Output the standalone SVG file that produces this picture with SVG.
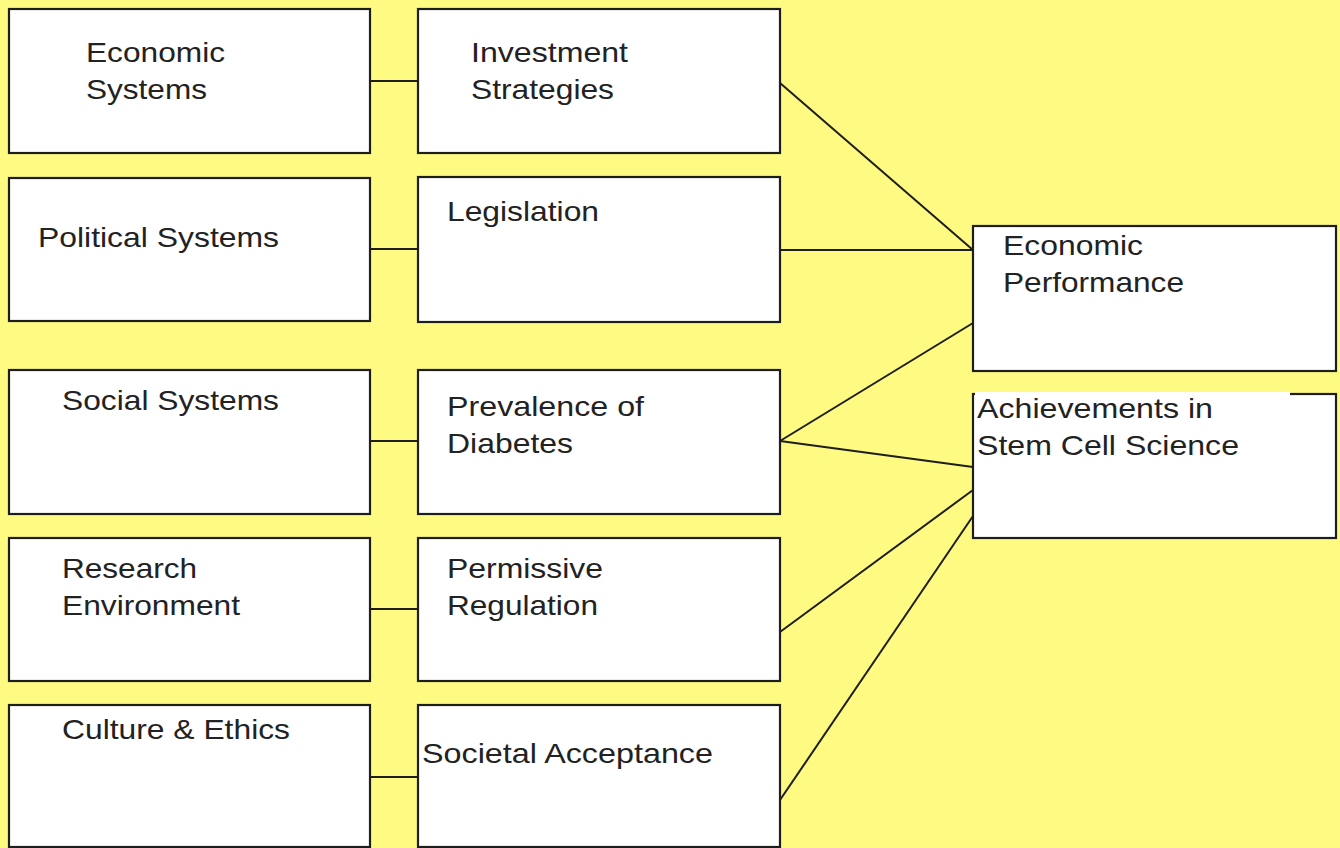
<svg xmlns="http://www.w3.org/2000/svg" width="1340" height="848" viewBox="0 0 1340 848">
<style>
.box{fill:#ffffff;stroke:#1e1e1a;stroke-width:2.2}
.ln{stroke:#1e1e1a;stroke-width:2;fill:none}
text{font-family:"Liberation Sans",Arial,sans-serif;font-size:28px;fill:#222222}
</style>
<rect width="1340" height="848" fill="#fefa82"/>
<g id="connectors">
<line class="ln" x1="370" y1="81" x2="418" y2="81"/>
<line class="ln" x1="370" y1="249" x2="418" y2="249"/>
<line class="ln" x1="370" y1="441" x2="418" y2="441"/>
<line class="ln" x1="370" y1="609" x2="418" y2="609"/>
<line class="ln" x1="370" y1="777" x2="418" y2="777"/>
<line class="ln" x1="780" y1="83" x2="973" y2="250"/>
<line class="ln" x1="780" y1="250" x2="973" y2="250"/>
<line class="ln" x1="780" y1="441" x2="973" y2="323"/>
<line class="ln" x1="780" y1="441" x2="973" y2="467"/>
<line class="ln" x1="780" y1="632" x2="973" y2="490"/>
<line class="ln" x1="780" y1="800" x2="973" y2="516"/>
</g>
<g id="economic-systems">
<rect class="box" x="9" y="9" width="361" height="144"/>
<text x="86" y="62" textLength="139" lengthAdjust="spacingAndGlyphs">Economic</text>
<text x="86" y="99" textLength="121" lengthAdjust="spacingAndGlyphs">Systems</text>
</g>
<g id="investment-strategies">
<rect class="box" x="418" y="9" width="362" height="144"/>
<text x="471" y="62" textLength="157" lengthAdjust="spacingAndGlyphs">Investment</text>
<text x="471" y="99" textLength="143" lengthAdjust="spacingAndGlyphs">Strategies</text>
</g>
<g id="political-systems">
<rect class="box" x="9" y="178" width="361" height="143"/>
<text x="38" y="247" textLength="241" lengthAdjust="spacingAndGlyphs">Political Systems</text>
</g>
<g id="legislation">
<rect class="box" x="418" y="177" width="362" height="145"/>
<text x="447" y="221" textLength="152" lengthAdjust="spacingAndGlyphs">Legislation</text>
</g>
<g id="social-systems">
<rect class="box" x="9" y="370" width="361" height="144"/>
<text x="62" y="410" textLength="217" lengthAdjust="spacingAndGlyphs">Social Systems</text>
</g>
<g id="prevalence-of-diabetes">
<rect class="box" x="418" y="370" width="362" height="144"/>
<text x="447" y="416" textLength="197" lengthAdjust="spacingAndGlyphs">Prevalence of</text>
<text x="447" y="453" textLength="126" lengthAdjust="spacingAndGlyphs">Diabetes</text>
</g>
<g id="research-environment">
<rect class="box" x="9" y="538" width="361" height="143"/>
<text x="62" y="578" textLength="135" lengthAdjust="spacingAndGlyphs">Research</text>
<text x="62" y="615" textLength="178" lengthAdjust="spacingAndGlyphs">Environment</text>
</g>
<g id="permissive-regulation">
<rect class="box" x="418" y="538" width="362" height="143"/>
<text x="447" y="578" textLength="156" lengthAdjust="spacingAndGlyphs">Permissive</text>
<text x="447" y="615" textLength="151" lengthAdjust="spacingAndGlyphs">Regulation</text>
</g>
<g id="culture-ethics">
<rect class="box" x="9" y="705" width="361" height="142"/>
<text x="62" y="739" textLength="228" lengthAdjust="spacingAndGlyphs">Culture &amp; Ethics</text>
</g>
<g id="societal-acceptance">
<rect class="box" x="418" y="705" width="362" height="142"/>
<text x="422" y="763" textLength="291" lengthAdjust="spacingAndGlyphs">Societal Acceptance</text>
</g>
<g id="economic-performance">
<rect class="box" x="973" y="226" width="363" height="145"/>
<text x="1003" y="255" textLength="140" lengthAdjust="spacingAndGlyphs">Economic</text>
<text x="1003" y="292" textLength="181" lengthAdjust="spacingAndGlyphs">Performance</text>
</g>
<g id="achievements-stem-cell">
<rect class="box" x="973" y="394" width="363" height="144"/>
<rect x="975" y="392" width="315" height="4" fill="#ffffff"/>
<text x="977" y="418" textLength="236" lengthAdjust="spacingAndGlyphs">Achievements in</text>
<text x="977" y="455" textLength="262" lengthAdjust="spacingAndGlyphs">Stem Cell Science</text>
</g>
</svg>
